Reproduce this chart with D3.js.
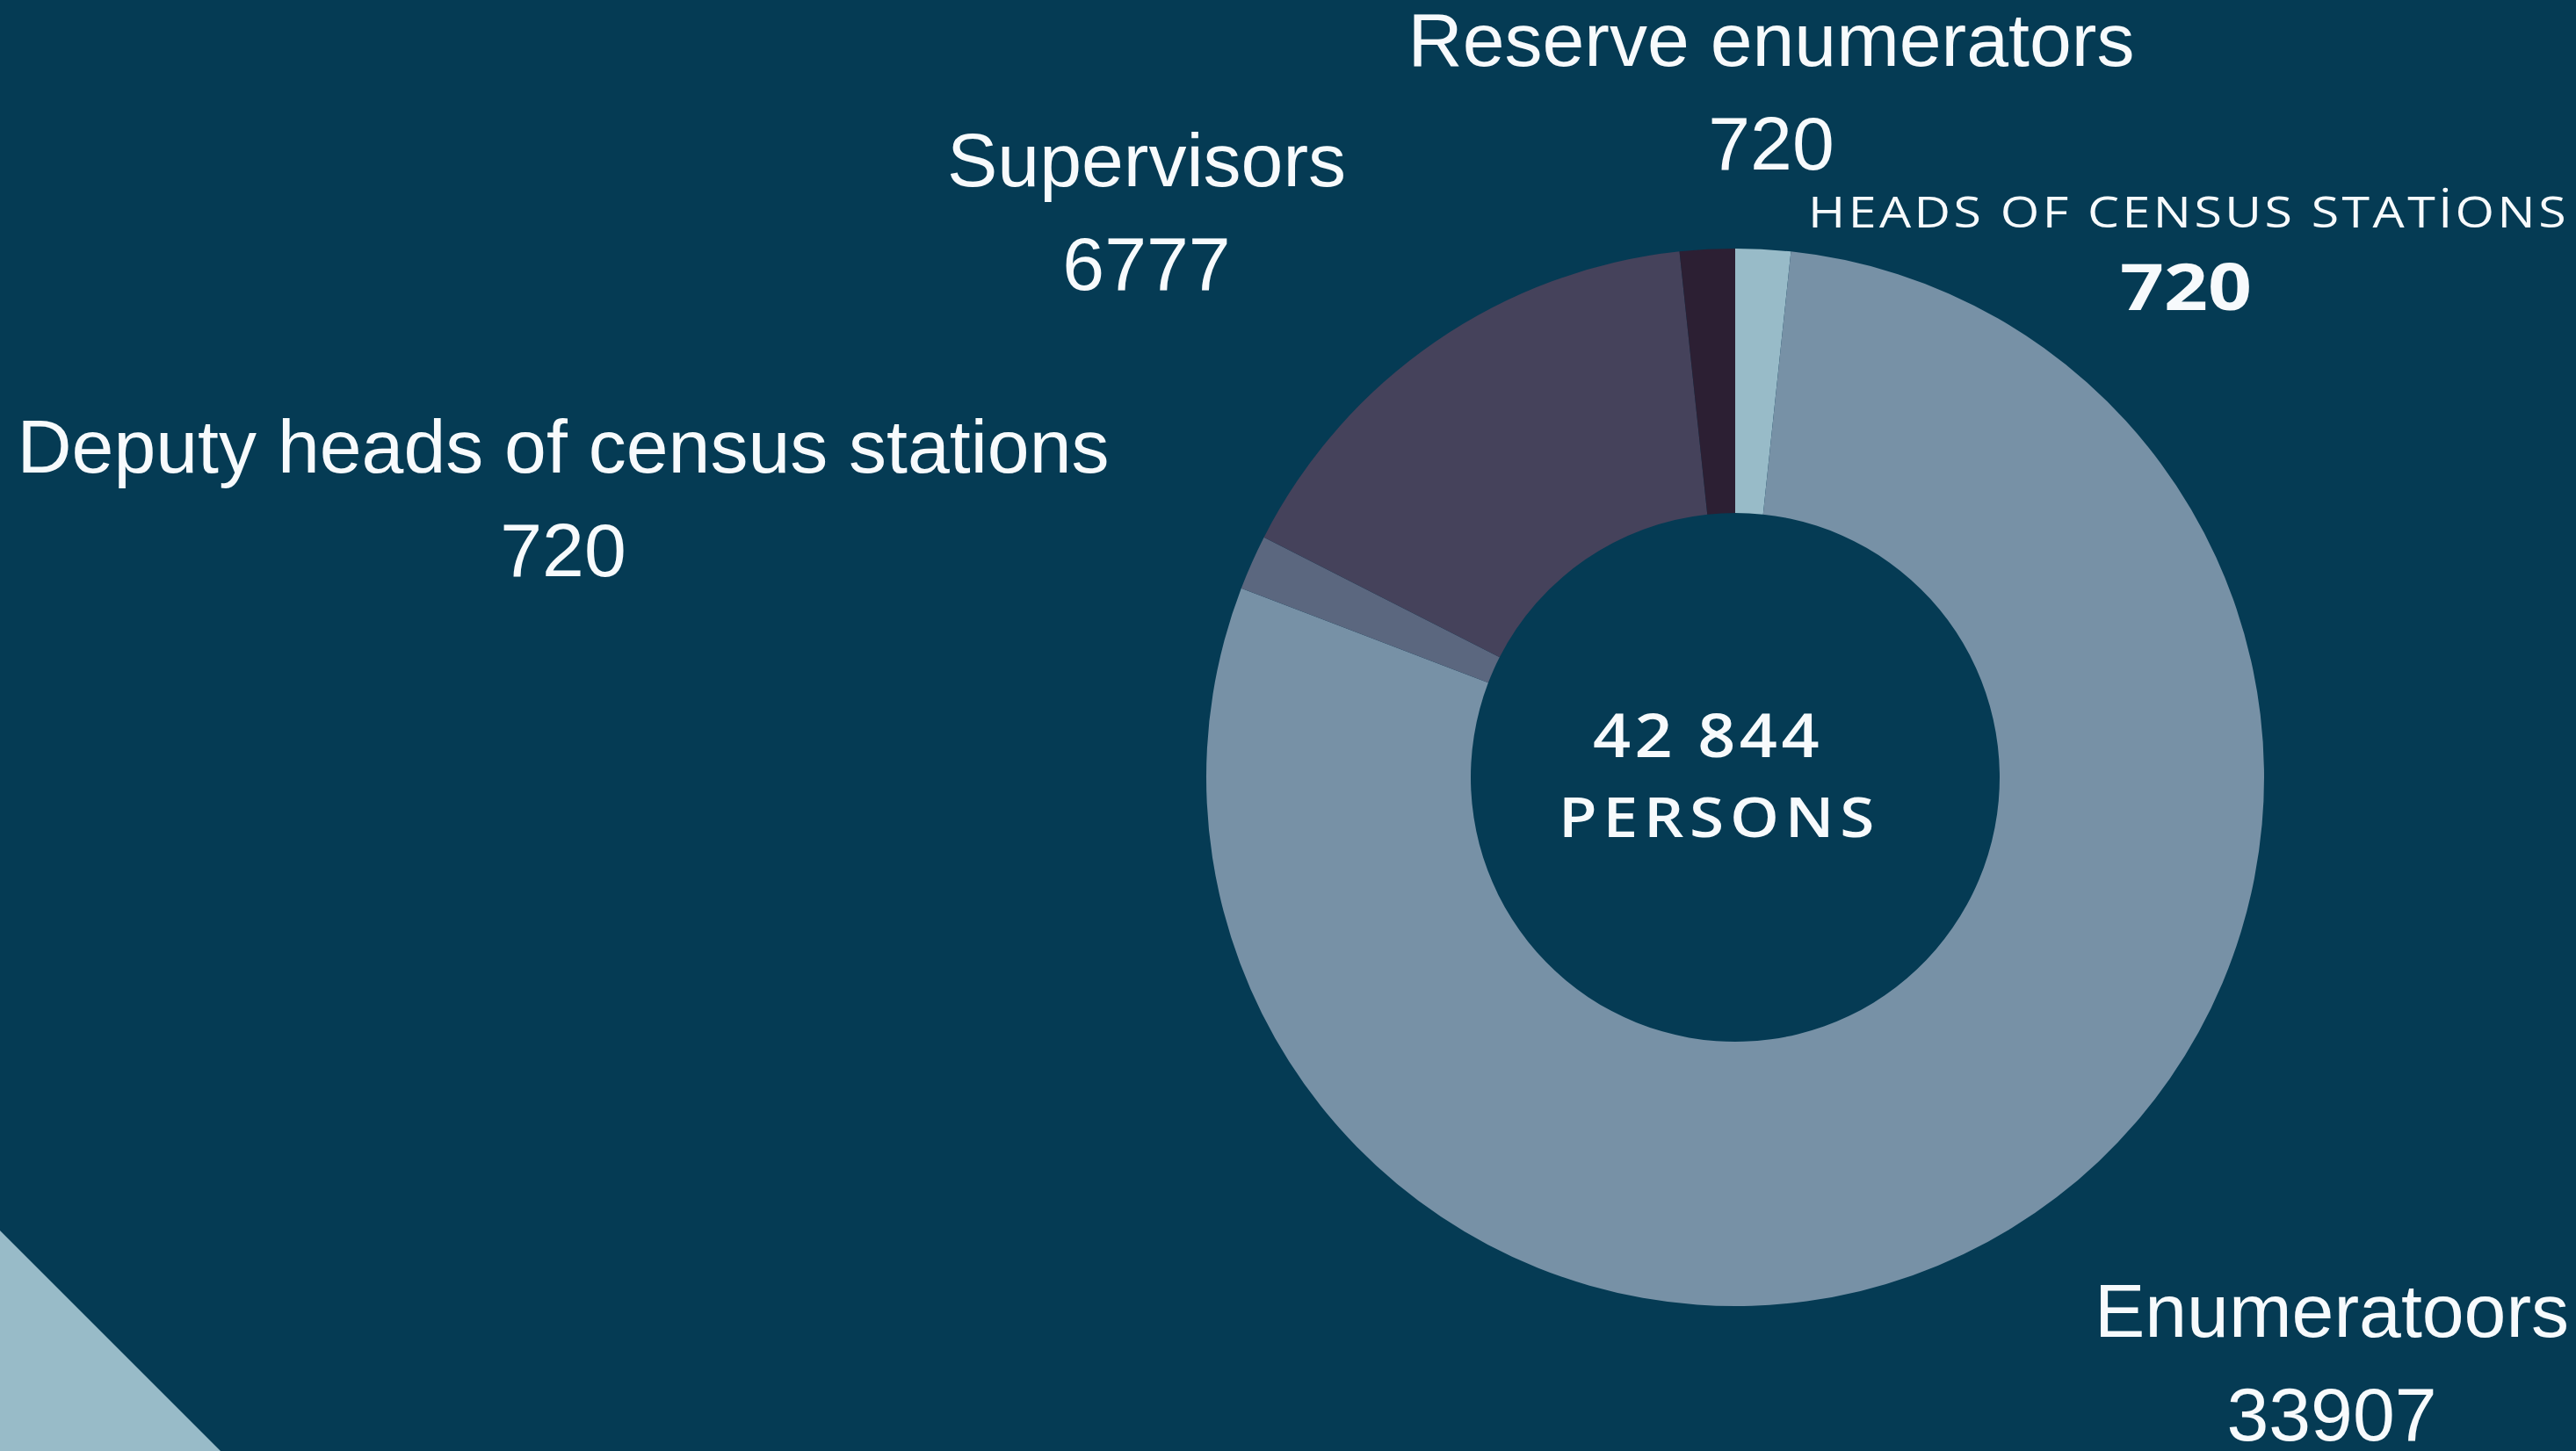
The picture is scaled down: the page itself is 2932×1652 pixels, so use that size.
<!DOCTYPE html>
<html>
<head>
<meta charset="utf-8">
<script src="https://cdn.jsdelivr.net/npm/d3@7"></script>
<style>
  html, body { margin: 0; padding: 0; background: #053b54; overflow: hidden; }
  svg { display: block; }
</style>
</head>
<body>
<div id="donut_chart"></div>
<script>
// data, clockwise from 12 o'clock
var categories = ["HEADS OF CENSUS STATİONS", "Enumeratoors", "Deputy heads of census stations", "Supervisors", "Reserve enumerators"];
var values = [720, 33907, 720, 6777, 720];
var totalLabel = "42 844";
var unitLabel = "PERSONS";

var palette = ["#98bbc8", "#7791a6", "#5b677f", "#45425b", "#2c1f33"];

// set the dimensions of the picture
var width = 2932,
    height = 1652;

var svg = d3.select("#donut_chart")
  .append("svg")
    .attr("width", width)
    .attr("height", height);

svg.append("rect")
  .attr("width", width)
  .attr("height", height)
  .attr("fill", "#053b54");

// decorative corner triangle bottom left
svg.append("path")
  .attr("d", "M0," + (height - 251) + "L251," + height + "L0," + height + "Z")
  .attr("fill", "#98bbc8");

var color = d3.scaleOrdinal()
  .domain(categories)
  .range(palette);

var cx = 1975, cy = 885,
    outerR = 602, innerR = 301;

var pie = d3.pie()
  .sort(null)
  .value(function(d) { return d.value; });

var arc = d3.arc()
  .innerRadius(innerR)
  .outerRadius(outerR);

var table = categories.map(function(c, i) { return {key: c, value: values[i]}; });

var g = svg.append("g")
  .attr("transform", "translate(" + cx + "," + cy + ")");

g.selectAll("slices")
  .data(pie(table))
  .enter()
  .append("path")
    .attr("d", arc)
    .attr("fill", function(d) { return color(d.data.key); });

// labels (name on first line, value below)
var labelPos = {
  "Reserve enumerators": {x: 2016, y: 75},
  "Supervisors": {x: 1305, y: 212},
  "Deputy heads of census stations": {x: 641, y: 538},
  "Enumeratoors": {x: 2654, y: 1522}
};

var plain = table.filter(function(d) { return labelPos[d.key]; });

svg.selectAll("names")
  .data(plain)
  .enter()
  .append("text")
    .attr("x", function(d) { return labelPos[d.key].x; })
    .attr("y", function(d) { return labelPos[d.key].y; })
    .attr("text-anchor", "middle")
    .style("font-family", "'Liberation Sans', Arial, sans-serif")
    .style("font-size", "86px")
    .style("fill", "#f7fafc")
    .text(function(d) { return d.key; });

svg.selectAll("vals")
  .data(plain)
  .enter()
  .append("text")
    .attr("x", function(d) { return labelPos[d.key].x; })
    .attr("y", function(d) { return labelPos[d.key].y + 118; })
    .attr("text-anchor", "middle")
    .style("font-family", "'Liberation Sans', Arial, sans-serif")
    .style("font-size", "86px")
    .style("fill", "#f7fafc")
    .text(function(d) { return d.value; });

// spaced caps style, stretched to the reference widths
function capsText(txt, x, y, len, size, weight, spacing) {
  svg.append("text")
    .attr("x", x)
    .attr("y", y)
    .attr("textLength", len)
    .attr("lengthAdjust", "spacingAndGlyphs")
    .style("font-family", "'Open Sans', 'Noto Sans', sans-serif")
    .style("font-weight", weight)
    .style("font-size", size + "px")
    .style("letter-spacing", spacing + "px")
    .style("fill", "#f7fafc")
    .text(txt);
}

var heads = table[0];
capsText(heads.key, 2058, 259, 866, 50, 500, 3);
capsText(heads.value, 2413, 353, 150, 74, 700, 0);

// centre total
capsText(totalLabel, 1813, 862, 262, 68, 600, 4);
capsText(unitLabel, 1774, 953, 366, 63, 600, 6);
</script>
</body>
</html>
